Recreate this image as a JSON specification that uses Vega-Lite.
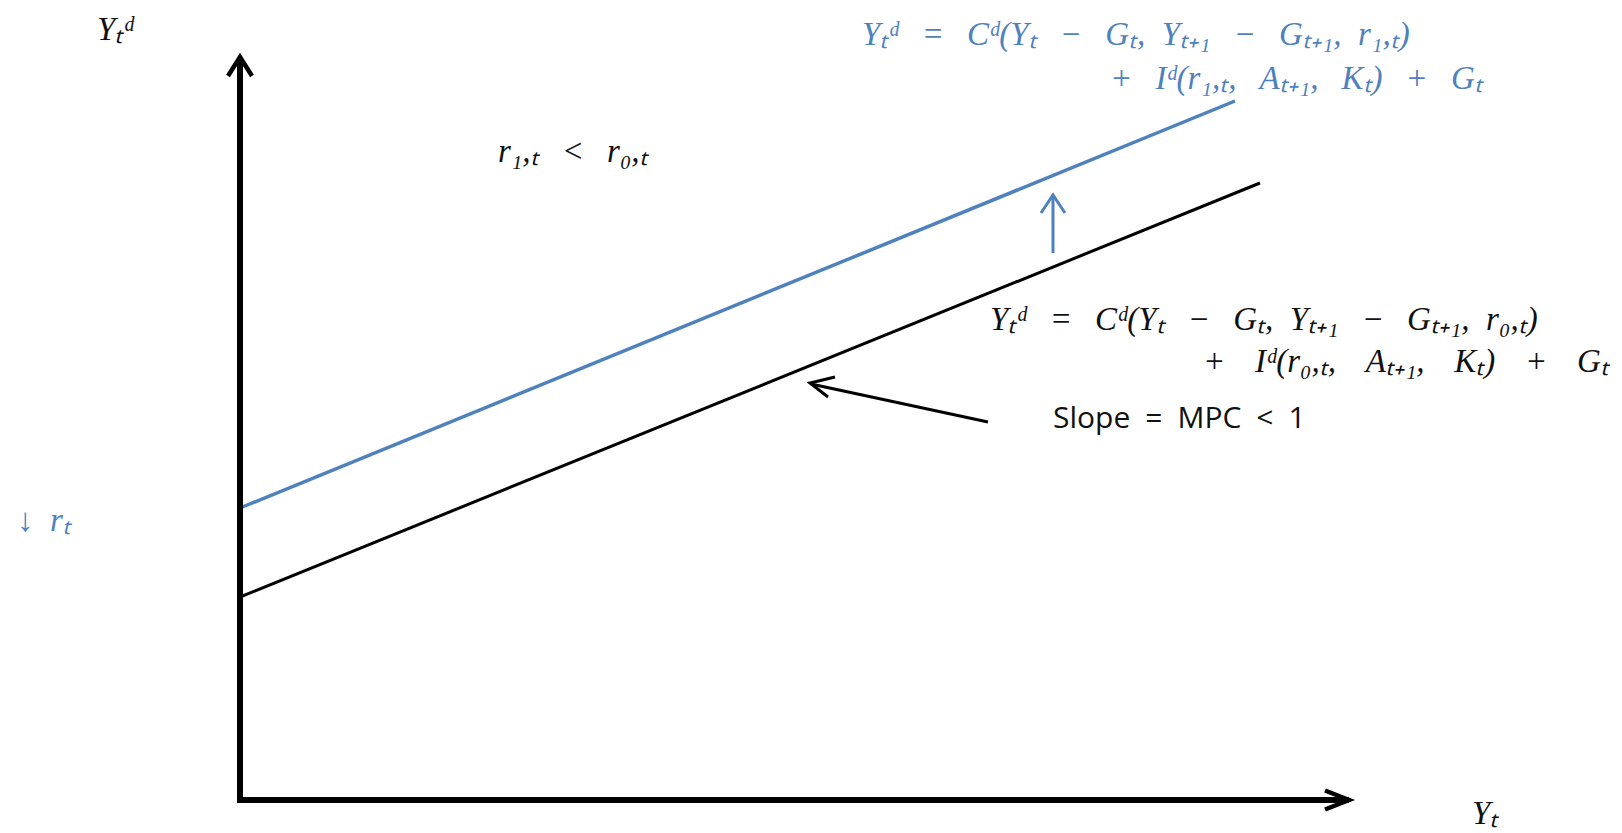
{
  "$schema": "https://vega.github.io/schema/vega-lite/v6.json",
  "width": 1622,
  "height": 833,
  "autosize": {"type": "fit", "contains": "padding"},
  "padding": 0,
  "background": "white",
  "config": {"view": {"stroke": null}},
  "datasets": {
    "frame": [
      {"part": "axes", "i": 0, "x": 0, "y": 73.8},
      {"part": "axes", "i": 1, "x": 0, "y": 0},
      {"part": "axes", "i": 2, "x": 110.6, "y": 0},
      {"part": "yhead", "i": 0, "x": -1.2, "y": 72.4},
      {"part": "yhead", "i": 1, "x": 0, "y": 74.3},
      {"part": "yhead", "i": 2, "x": 1.2, "y": 72.4},
      {"part": "xhead", "i": 0, "x": 108.5, "y": 0.95},
      {"part": "xhead", "i": 1, "x": 110.9, "y": 0},
      {"part": "xhead", "i": 2, "x": 108.5, "y": -0.95}
    ],
    "demand": [
      {"curve": "r0", "i": 0, "x": 0, "y": 20.3},
      {"curve": "r0", "i": 1, "x": 102, "y": 61.7},
      {"curve": "r1", "i": 0, "x": 0, "y": 29.2},
      {"curve": "r1", "i": 1, "x": 99.5, "y": 69.9}
    ],
    "shift": [
      {"part": "shaft", "i": 0, "x": 81.3, "y": 54.7},
      {"part": "shaft", "i": 1, "x": 81.3, "y": 60.4},
      {"part": "head", "i": 0, "x": 80.1, "y": 58.7},
      {"part": "head", "i": 1, "x": 81.3, "y": 60.5},
      {"part": "head", "i": 2, "x": 82.5, "y": 58.7}
    ],
    "pointer": [
      {"part": "shaft", "i": 0, "x": 74.8, "y": 37.8},
      {"part": "shaft", "i": 1, "x": 57.1, "y": 41.6},
      {"part": "head", "i": 0, "x": 59.5, "y": 42.3},
      {"part": "head", "i": 1, "x": 57.0, "y": 41.7},
      {"part": "head", "i": 2, "x": 58.8, "y": 40.3}
    ],
    "blueText": [
      {"x": 62.2, "y": 75.5, "label": "Yₜᵈ\u2002\u2009=\u2002\u2009Cᵈ(Yₜ\u2002\u2009−\u2002\u2009Gₜ,\u2002Yₜ₊₁\u2002\u2009−\u2002\u2009Gₜ₊₁,\u2002r₁,ₜ)"},
      {"x": 87.0, "y": 71.1, "label": "+\u2002\u2009Iᵈ(r₁,ₜ,\u2002\u2009Aₜ₊₁,\u2002\u2009Kₜ)\u2002\u2009+\u2002\u2009Gₜ"},
      {"x": -22.3, "y": 26.9, "label": "↓\u2002rₜ"}
    ],
    "blackText": [
      {"x": 75.0, "y": 47.0, "label": "Yₜᵈ\u2002\u2009=\u2002\u2009Cᵈ(Yₜ\u2002\u2009−\u2002\u2009Gₜ,\u2002Yₜ₊₁\u2002\u2009−\u2002\u2009Gₜ₊₁,\u2002r₀,ₜ)"},
      {"x": 96.3, "y": 42.8, "label": "+\u2002\u2009\u2009Iᵈ(r₀,ₜ,\u2002\u2009\u2009Aₜ₊₁,\u2002\u2009\u2009Kₜ)\u2002\u2009\u2009+\u2002\u2009\u2009Gₜ"},
      {"x": 25.8, "y": 63.8, "label": "r₁,ₜ\u2002\u2009<\u2002\u2009r₀,ₜ"},
      {"x": -14.3, "y": 76.0, "label": "Yₜᵈ"},
      {"x": 123.2, "y": -2.4, "label": "Yₜ"}
    ],
    "note": [
      {"x": 81.3, "y": 37.2, "label": "Slope\u2002=\u2002MPC\u2002<\u20021"}
    ]
  },
  "encoding": {
    "x": {"field": "x", "type": "quantitative", "scale": {"domain": [-24, 138.2]}, "axis": null},
    "y": {"field": "y", "type": "quantitative", "scale": {"domain": [-3.3, 80]}, "axis": null}
  },
  "layer": [
    {
      "data": {"name": "demand"},
      "transform": [{"filter": "datum.curve === 'r0'"}],
      "mark": {"type": "line", "color": "black", "strokeWidth": 3},
      "encoding": {"order": {"field": "i"}}
    },
    {
      "data": {"name": "demand"},
      "transform": [{"filter": "datum.curve === 'r1'"}],
      "mark": {"type": "line", "color": "#4F81BD", "strokeWidth": 3.5},
      "encoding": {"order": {"field": "i"}}
    },
    {
      "data": {"name": "frame"},
      "transform": [{"filter": "datum.part === 'axes'"}],
      "mark": {"type": "line", "color": "black", "strokeWidth": 6, "strokeJoin": "miter", "strokeCap": "square"},
      "encoding": {"order": {"field": "i"}}
    },
    {
      "data": {"name": "frame"},
      "transform": [{"filter": "datum.part !== 'axes'"}],
      "mark": {"type": "line", "color": "black", "strokeWidth": 4.5, "strokeJoin": "miter"},
      "encoding": {"order": {"field": "i"}, "detail": {"field": "part"}}
    },
    {
      "data": {"name": "shift"},
      "mark": {"type": "line", "color": "#4F81BD", "strokeWidth": 3, "strokeJoin": "miter"},
      "encoding": {"order": {"field": "i"}, "detail": {"field": "part"}}
    },
    {
      "data": {"name": "pointer"},
      "mark": {"type": "line", "color": "black", "strokeWidth": 3, "strokeJoin": "miter"},
      "encoding": {"order": {"field": "i"}, "detail": {"field": "part"}}
    },
    {
      "data": {"name": "blueText"},
      "mark": {"type": "text", "align": "left", "baseline": "alphabetic", "font": "Liberation Serif", "fontStyle": "italic", "fontSize": 33, "color": "#4F81BD"},
      "encoding": {"text": {"field": "label"}}
    },
    {
      "data": {"name": "blackText"},
      "mark": {"type": "text", "align": "left", "baseline": "alphabetic", "font": "Liberation Serif", "fontStyle": "italic", "fontSize": 33, "color": "#111111"},
      "encoding": {"text": {"field": "label"}}
    },
    {
      "data": {"name": "note"},
      "mark": {"type": "text", "align": "left", "baseline": "alphabetic", "font": "Open Sans", "fontSize": 30, "color": "#111111"},
      "encoding": {"text": {"field": "label"}}
    }
  ]
}
